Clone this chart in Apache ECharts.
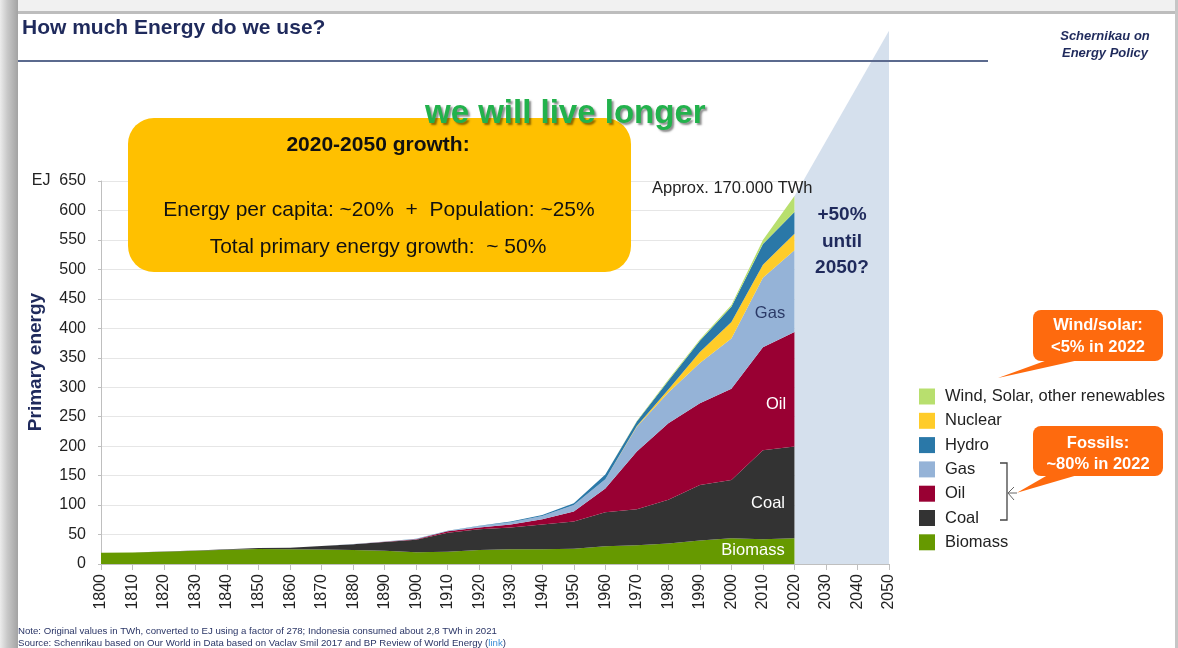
<!DOCTYPE html>
<html>
<head>
<meta charset="utf-8">
<script src="https://cdn.jsdelivr.net/npm/echarts@6/dist/echarts.min.js"></script>
<style>
html,body{margin:0;padding:0;background:#fff;}
#chart{width:1178px;height:648px;}
</style>
</head>
<body>
<div id="chart"></div>
<script>
// ---- Data (EJ, by decade) ----
const axisYears = ['1800','1810','1820','1830','1840','1850','1860','1870','1880','1890','1900','1910','1920','1930','1940','1950','1960','1970','1980','1990','2000','2010','2020','2030','2040','2050'];
const biomass = [19.2,19.7,21,22.6,24.3,25.5,25,24.5,23.8,22.6,19.8,21,23.8,25,25,26,30,32,35,40,43.6,42,43.6];
const coal    = [0,0,0.2,0.4,0.8,1.5,2.7,6,9.6,14.7,21.5,32,35,37,42,46,58,61,74,94,99,151,156];
const oil     = [0,0,0,0,0,0,0,0.1,0.3,0.5,0.8,2.5,3,5,9,17,40,98,130,139,155,175,194];
const gas     = [0,0,0,0,0,0,0,0,0.2,0.4,0.5,0.5,2.5,3.8,5.5,11,16,42,52,68,85,118,139];
const nuclear = [0,0,0,0,0,0,0,0,0,0,0,0,0,0,0,0,0,1,5,19,28,22,28];
const hydro   = [0,0,0,0,0,0,0,0,0,0,0.2,0.3,0.8,1.2,1.5,3,8,8,15,19,26,35,37];
const wind    = [0,0,0,0,0,0,0,0,0,0,0,0,0,0,0,0,0,0.5,2,2,3,7,27];
// projection (+50% until 2050?)
const projYears = ['2020','2050'];
const projTop = [624, 905];

const seriesNames = ['Biomass','Coal','Oil','Gas','Nuclear','Hydro','Wind, Solar, other renewables'];
const legendOrder = ['Wind, Solar, other renewables','Nuclear','Hydro','Gas','Oil','Coal','Biomass'];
const seriesData = [biomass, coal, oil, gas, nuclear, hydro, wind];
const seriesColors = ['#669900','#333333','#990033','#95b3d7','#ffcc29','#2a78a8','#b8df6e'];

const FONT = '"Liberation Sans", Arial, sans-serif';
const NAVY = '#1f2a5c';

const chart = echarts.init(document.getElementById('chart'), null, {renderer:'canvas'});

const areaSeries = seriesNames.map((n,i)=>({
  name:n, type:'line', stack:'total', data:seriesData[i],
  showSymbol:false, symbol:'none', smooth:false,
  lineStyle:{width:0, color:seriesColors[i]},
  itemStyle:{color:seriesColors[i]},
  areaStyle:{color:seriesColors[i], opacity:1},
  z:3, silent:true
}));

const projSeries = {
  type:'custom', name:'projection', clip:false, z:1, silent:true,
  data:[[0]],
  renderItem:function(params, api){
    const i0 = axisYears.indexOf(projYears[0]);
    const i1 = axisYears.indexOf(projYears[1]);
    const p = [
      api.coord([i0, 0]), api.coord([i0, projTop[0]]),
      api.coord([i1, projTop[1]]), api.coord([i1, 0])
    ];
    return {type:'polygon', shape:{points:p}, style:{fill:'#d5e0ed'}};
  }
};

function txt(x,y,text,size,opts){
  return Object.assign({type:'text', x:x, y:y, z:50, style:Object.assign({
    text:text, font:(opts&&opts.weight?opts.weight+' ':'')+size+'px '+FONT,
    fill:(opts&&opts.fill)||'#222', textAlign:(opts&&opts.align)||'left', textVerticalAlign:'middle'
  }, (opts&&opts.style)||{})});
}

const graphics = [
  // slide frame
  {type:'rect', shape:{x:0,y:0,width:1178,height:11}, style:{fill:'#f1f1f1'}, z:40},
  {type:'rect', shape:{x:0,y:11,width:1178,height:3}, style:{fill:'#bdbdbd'}, z:40},
  {type:'rect', shape:{x:0,y:0,width:18,height:648}, style:{fill:new echarts.graphic.LinearGradient(0,0,1,0,[{offset:0,color:'#ececec'},{offset:0.4,color:'#c9c9c9'},{offset:1,color:'#a3a3a3'}])}, z:40},
  {type:'rect', shape:{x:1175,y:0,width:3,height:648}, style:{fill:'#c6c6c6'}, z:40},
  // title
  txt(22,28,'How much Energy do we use?',21,{weight:'bold',fill:NAVY}),
  {type:'line', shape:{x1:18,y1:61,x2:988,y2:61}, style:{stroke:'#5b6a8e',lineWidth:2}, z:45},
  txt(1105,36,'Schernikau on',13,{weight:'italic bold',fill:NAVY,align:'center'}),
  txt(1105,53,'Energy Policy',13,{weight:'italic bold',fill:NAVY,align:'center'}),
  // green headline
  txt(425,114,'we will live longer',33,{weight:'bold',fill:'#22b24c',style:{textShadowColor:'rgba(0,0,0,0.45)',textShadowOffsetX:2,textShadowOffsetY:2,textShadowBlur:2}}),
  // yellow box
  {type:'rect', shape:{x:128,y:118,width:503,height:154,r:26}, style:{fill:'#ffc000'}, z:30},
  txt(378,145,'2020-2050 growth:',21,{weight:'bold',fill:'#111',align:'center'}),
  txt(379,210,'Energy per capita: ~20%  +  Population: ~25%',21,{fill:'#111',align:'center'}),
  txt(378,247,'Total primary energy growth:  ~ 50%',21,{fill:'#111',align:'center'}),
  // annotations in plot
  txt(652,188,'Approx. 170.000 TWh',16.5,{fill:'#222'}),
  txt(842,215,'+50%',19,{weight:'bold',fill:NAVY,align:'center'}),
  txt(842,242,'until',19,{weight:'bold',fill:NAVY,align:'center'}),
  txt(842,268,'2050?',19,{weight:'bold',fill:NAVY,align:'center'}),
  txt(770,313,'Gas',16.5,{fill:'#2b3a67',align:'center'}),
  txt(776,404,'Oil',16.5,{fill:'#fff',align:'center'}),
  txt(768,503,'Coal',16.5,{fill:'#fff',align:'center'}),
  txt(753,550,'Biomass',16.5,{fill:'#fff',align:'center'}),
  // y axis name
  {type:'text', x:35.5, y:362, rotation:Math.PI/2, z:50, style:{text:'Primary energy', font:'bold 19px '+FONT, fill:NAVY, textAlign:'center', textVerticalAlign:'middle'}},
  // callouts
  {type:'polygon', shape:{points:[[998,378],[1053,358],[1088,358]]}, style:{fill:'#fe6a0e'}, z:30},
  {type:'rect', shape:{x:1033,y:310,width:130,height:51,r:8}, style:{fill:'#fe6a0e'}, z:30},
  txt(1098,325,'Wind/solar:',16.5,{weight:'bold',fill:'#fff',align:'center'}),
  txt(1098,347,'<5% in 2022',16.5,{weight:'bold',fill:'#fff',align:'center'}),
  {type:'polygon', shape:{points:[[1017,492.7],[1053,472],[1088,472]]}, style:{fill:'#fe6a0e'}, z:30},
  {type:'rect', shape:{x:1033,y:426,width:130,height:50,r:8}, style:{fill:'#fe6a0e'}, z:30},
  txt(1098,443,'Fossils:',16.5,{weight:'bold',fill:'#fff',align:'center'}),
  txt(1098,464,'~80% in 2022',16.5,{weight:'bold',fill:'#fff',align:'center'}),
  // bracket + arrow
  {type:'polyline', shape:{points:[[1000,463],[1007,463],[1007,520],[1000,520]]}, style:{stroke:'#444',lineWidth:1.3,fill:null}, z:30},
  {type:'polyline', shape:{points:[[1014,487],[1008,493],[1014,500]]}, style:{stroke:'#666',lineWidth:1,fill:null}, z:30},
  {type:'line', shape:{x1:1008,y1:493,x2:1017,y2:493}, style:{stroke:'#666',lineWidth:1}, z:30},
  // notes
  txt(18,631,'Note: Original values in TWh, converted to EJ using a factor of 278; Indonesia consumed about 2,8 TWh in 2021',9.65,{fill:'#2a3566'}),
  {type:'text', x:18, y:643, z:50, style:{text:'Source: Schenrikau based on Our World in Data based on Vaclav Smil 2017 and BP Review of World Energy ({l|link})', font:'9.65px '+FONT, fill:'#2a3566', textVerticalAlign:'middle', rich:{l:{fill:'#3d8fd6', font:'9.65px '+FONT}}}}
];

const option = {
  animation:false,
  backgroundColor:'#ffffff',
  grid:{left:101, right:289, top:181, bottom:84, containLabel:false},
  xAxis:{
    type:'category', data:axisYears, boundaryGap:false,
    axisLine:{show:true, lineStyle:{color:'#bfbfbf', width:1}},
    axisTick:{show:true, length:6, lineStyle:{color:'#bfbfbf'}},
    axisLabel:{rotate:90, margin:10, fontSize:16, color:'#222', fontFamily:FONT, interval:0},
    splitLine:{show:false}
  },
  yAxis:{
    type:'value', min:0, max:650, interval:50,
    axisLine:{show:true, lineStyle:{color:'#bfbfbf', width:1}},
    axisTick:{show:true, length:3, lineStyle:{color:'#bfbfbf'}},
    axisLabel:{margin:15, fontSize:16, color:'#222', fontFamily:FONT, formatter:v=> v===650 ? 'EJ  650' : String(v)},
    splitLine:{show:true, lineStyle:{color:'#e6e6e6', width:1}}
  },
  legend:{
    orient:'vertical', left:919, top:388, padding:0,
    itemWidth:16, itemHeight:16, itemGap:7.3, icon:'rect',
    data:legendOrder,
    textStyle:{fontSize:16.5, color:'#222', fontFamily:FONT, padding:[0,0,0,5]},
    selectedMode:false
  },
  series:[projSeries].concat(areaSeries),
  graphic:graphics
};
chart.setOption(option);
</script>
</body>
</html>
